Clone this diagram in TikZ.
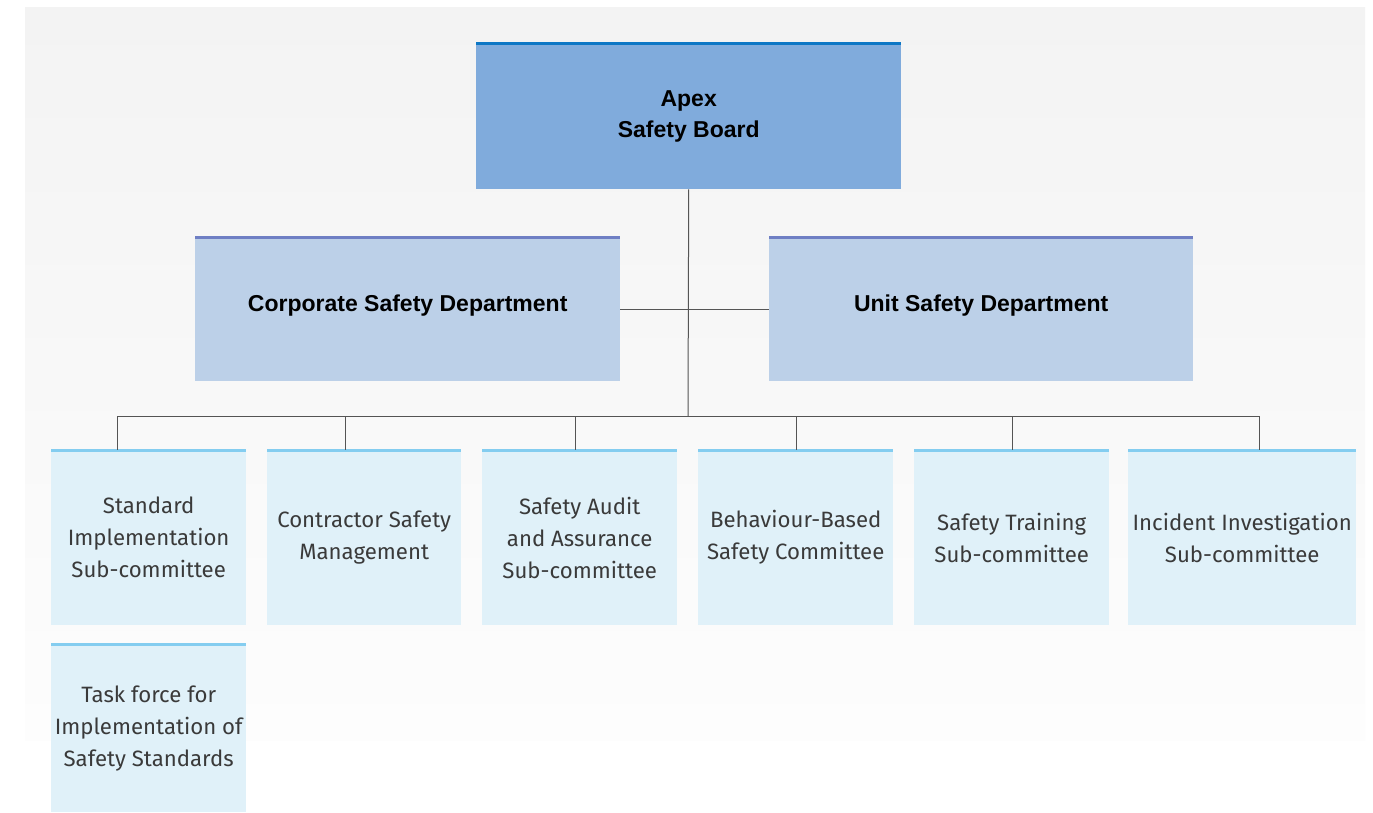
\documentclass[tikz,border=0pt]{standalone}
\usepackage{fontspec}
\setmainfont{Fira Sans}
\newfontfamily\headfont{Liberation Sans}
\definecolor{bgtop}{HTML}{F3F3F3}
\definecolor{bgbot}{HTML}{FDFDFD}
\definecolor{apexfill}{HTML}{80ABDC}
\definecolor{apexline}{HTML}{0D77C5}
\definecolor{deptfill}{HTML}{BCD0E8}
\definecolor{deptline}{HTML}{6F7FC4}
\definecolor{subfill}{HTML}{E0F1F9}
\definecolor{subline}{HTML}{84CDF0}
\definecolor{conn}{HTML}{555555}
\definecolor{subtext}{HTML}{3A3A3A}
\begin{document}
\begin{tikzpicture}[x=1pt,y=-1pt,
  box/.style={rectangle, inner sep=0pt, anchor=north west, align=center},
  apexbox/.style={box, fill=apexfill, font=\headfont\bfseries\fontsize{23}{31}\selectfont, text=black},
  deptbox/.style={box, fill=deptfill, font=\headfont\bfseries\fontsize{23}{31}\selectfont, text=black},
  subbox/.style={box, fill=subfill, font=\fontsize{22.2}{32}\selectfont, text=subtext},
  apextop/.style={draw=apexline, line width=3pt},
  depttop/.style={draw=deptline, line width=3pt},
  subtop/.style={draw=subline, line width=3pt},
  link/.style={draw=conn, line width=1pt}
]
\useasboundingbox (0,0) rectangle (1373,813);
\fill[white] (0,0) rectangle (1373,813);
\shade[top color=bgtop, bottom color=bgbot] (25,8) rectangle (1365,740);

% nodes
\node[apexbox, minimum width=425pt, minimum height=145pt] (apex) at (476,44) {Apex\\Safety Board};
\node[deptbox, minimum width=425pt, minimum height=144pt] (corp) at (195,237) {\raisebox{-2pt}[0pt][0pt]{Corporate Safety Department}};
\node[deptbox, minimum width=424pt, minimum height=144pt] (unit) at (769,237) {\raisebox{-2pt}[0pt][0pt]{Unit Safety Department}};

\node[subbox, minimum width=195pt, minimum height=175pt] (s1) at (51,450) {Standard\\Implementation\\Sub-committee};
\node[subbox, minimum width=194pt, minimum height=175pt] (s2) at (267,450) {Contractor Safety\\Management};
\node[subbox, minimum width=195pt, minimum height=175pt] (s3) at (482,450) {Safety Audit\\and Assurance\\Sub-committee};
\node[subbox, minimum width=195pt, minimum height=175pt] (s4) at (698,450) {Behaviour-Based\\Safety Committee};
\node[subbox, minimum width=195pt, minimum height=175pt] (s5) at (914,450) {Safety Training\\Sub-committee};
\node[subbox, minimum width=228pt, minimum height=175pt] (s6) at (1128,450) {Incident Investigation\\Sub-committee};
\node[subbox, minimum width=195pt, minimum height=168pt] (t1) at (51,644) {Task force for\\Implementation of\\Safety Standards};

% top borders
\draw[apextop] (apex.north west) -- (apex.north east);
\draw[depttop] (corp.north west) -- (corp.north east);
\draw[depttop] (unit.north west) -- (unit.north east);
\foreach \n in {s1,s2,s3,s4,s5,s6,t1}
  \draw[subtop] (\n.north west) -- (\n.north east);

% connectors
\coordinate (bus) at (688,416);
\coordinate (mid) at (688,309);
\draw[link] (apex.south) -- (bus);
\draw[link] (corp.east |- mid) -- (unit.west |- mid);
\coordinate (b1) at (117,416);
\coordinate (b6) at (1259,416);
\draw[link] (b1) -- (b6);
\draw[link] (b1) -- (b1 |- s1.north);
\draw[link] (345,416) coordinate (b2) -- (b2 |- s2.north);
\draw[link] (575,416) coordinate (b3) -- (b3 |- s3.north);
\draw[link] (796,416) coordinate (b4) -- (b4 |- s4.north);
\draw[link] (1012,416) coordinate (b5) -- (b5 |- s5.north);
\draw[link] (b6) -- (b6 |- s6.north);
\end{tikzpicture}
\end{document}
